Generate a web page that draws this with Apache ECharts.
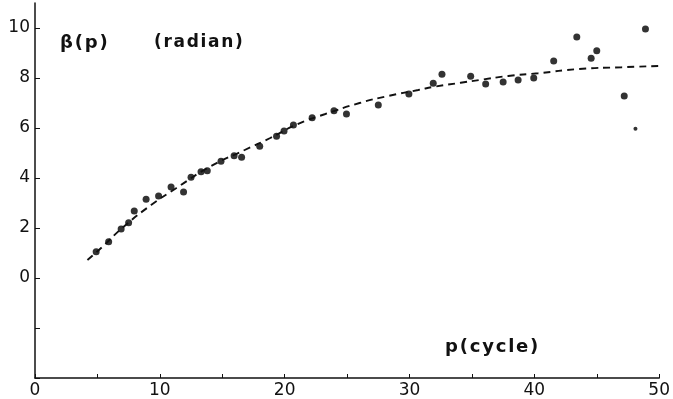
<!DOCTYPE html>
<html>
<head>
<meta charset="utf-8">
<script src="https://cdn.jsdelivr.net/npm/echarts@6/dist/echarts.min.js"></script>
<style>
  html, body { margin: 0; padding: 0; background: #fff; }
  #chart { width: 673px; height: 399px; }
</style>
</head>
<body>
<div id="chart"></div>
<script>
// measured phase β(p) vs cycle number p, with the dashed fitted trend

const pointX = [4.9, 5.9, 6.9, 7.5, 7.95, 8.9, 9.9, 10.9, 11.9, 12.5, 13.3, 13.8, 14.9, 15.95, 16.55,
  18.0, 19.35, 19.95, 20.7, 22.2, 23.95, 24.95, 27.5, 29.95, 31.9, 32.6, 34.9, 36.1, 37.5, 38.7,
  39.95, 41.55, 43.4, 44.55, 45.0, 47.2, 48.9];
const pointY = [1.05, 1.45, 1.96, 2.21, 2.68, 3.15, 3.28, 3.64, 3.44, 4.03, 4.25, 4.29, 4.67, 4.89, 4.83,
  5.27, 5.67, 5.88, 6.12, 6.41, 6.69, 6.56, 6.92, 7.36, 7.79, 8.15, 8.07, 7.76, 7.84, 7.92,
  8.0, 8.68, 9.64, 8.79, 9.09, 7.28, 9.96];
// one faint, smaller dot
const smallX = [48.1];
const smallY = [5.97];

const curveX = [4.2, 5.4, 7.1, 9.3, 11.3, 14, 16.8, 18.8, 21, 23.2, 26, 28.3, 30.7, 32.1, 34.1, 35.6,
  37.9, 40.3, 43.6, 47, 50];
const curveY = [0.72, 1.25, 2.05, 2.92, 3.59, 4.45, 5.12, 5.59, 6.15, 6.55, 7.0, 7.28, 7.52, 7.66, 7.81, 7.92,
  8.08, 8.19, 8.36, 8.43, 8.48];

const xLabels = [0, 10, 20, 30, 40, 50];
const yLabels = [0, 2, 4, 6, 8, 10];

const FONT = "DejaVu Sans";
const HS = "\u200A"; // hair space, to loosen the hand-lettered captions
const spaced = (s) => s.split("").join(HS);
const zip = (xs, ys) => xs.map((x, i) => [x, ys[i]]);

const chart = echarts.init(document.getElementById("chart"));
chart.setOption({
  animation: false,
  grid: { left: 35, right: 13, top: 3, bottom: 21 },
  xAxis: {
    type: "value", min: 0, max: 50, interval: 5,
    axisLine: { onZero: false, lineStyle: { color: "#111", width: 1.5 } },
    axisTick: { inside: true, length: 4, lineStyle: { color: "#111" } },
    splitLine: { show: false },
    axisLabel: { color: "#111", fontFamily: FONT, fontSize: 17, margin: 4,
      formatter: (v) => xLabels.includes(v) ? String(v) : "" },
  },
  yAxis: {
    type: "value", min: -4, max: 11, interval: 2,
    axisLine: { onZero: false, lineStyle: { color: "#111", width: 1.5 } },
    axisTick: { inside: true, length: 5, lineStyle: { color: "#111" } },
    splitLine: { show: false },
    axisLabel: { color: "#111", fontFamily: FONT, fontSize: 17, margin: 5, showMaxLabel: false,
      formatter: (v) => yLabels.includes(v) ? String(v) : "" },
  },
  series: [
    { type: "line", data: zip(curveX, curveY), smooth: true, symbol: "none",
      lineStyle: { color: "#111", width: 1.9, type: [7, 5] } },
    { type: "scatter", data: zip(pointX, pointY), symbolSize: 7, itemStyle: { color: "#000" } },
    { type: "scatter", data: zip(smallX, smallY), symbolSize: 4, itemStyle: { color: "#000" } },
  ],
  graphic: [
    { type: "text", left: 60, top: 34, style: { text: spaced("β(p)"), font: `600 18px "${FONT}"`, fill: "#111" } },
    { type: "text", left: 154, top: 34, style: { text: spaced("(radian)"), font: `600 17px "${FONT}"`, fill: "#111" } },
    { type: "text", left: 445, top: 338, style: { text: spaced("p(cycle)"), font: `600 18px "${FONT}"`, fill: "#111" } },
  ],
});
</script>
</body>
</html>
